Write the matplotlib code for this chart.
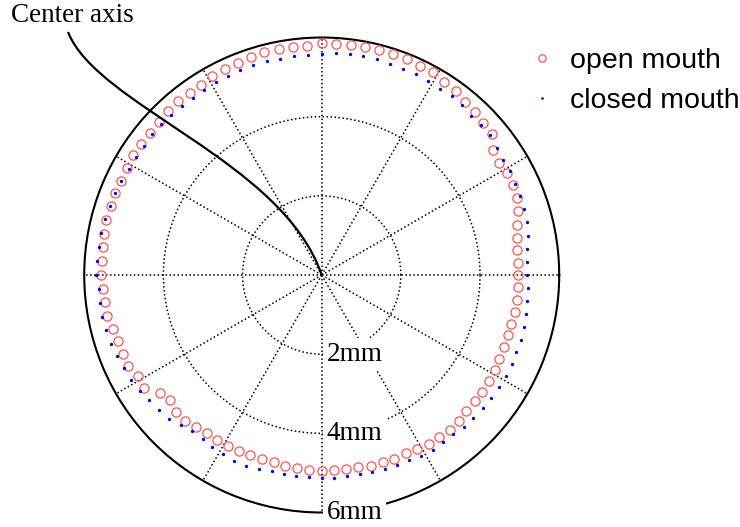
import numpy as np
import matplotlib
matplotlib.use("Agg")
import matplotlib.pyplot as plt
from matplotlib.path import Path
from matplotlib.patches import PathPatch

# sample angles (deg), 100 points round the circle
angles_deg = np.arange(0, 360, 3.6)

# radius of the mouth contour (mm)
r_open = [4.97, 4.98, 4.98, 5.03, 5.09, 5.22, 5.31, 5.35, 5.33, 5.29,
          5.36, 5.59, 5.60, 5.64, 5.66, 5.76, 5.78, 5.85, 5.84, 5.87,
          5.86, 5.87, 5.87, 5.87, 5.86, 5.85, 5.79, 5.80, 5.82, 5.82,
          5.79, 5.77, 5.74, 5.73, 5.69, 5.68, 5.71, 5.67, 5.63, 5.64,
          5.63, 5.64, 5.62, 5.60, 5.62, 5.61, 5.63, 5.59, 5.58, 5.56,
          5.58, 5.53, 5.52, 5.51, 5.44, 5.42, 5.40, 5.40, 5.30, 5.31,
          5.06, 4.97, 5.04, 5.05, 4.99, 4.92, 4.93, 4.92, 4.91, 4.89,
          4.89, 4.89, 4.91, 4.92, 4.94, 4.95, 4.93, 4.93, 4.95, 4.98,
          4.98, 4.99, 4.98, 5.02, 5.05, 5.05, 5.08, 5.05, 5.01, 5.01,
          5.01, 5.00, 4.99, 4.96, 4.95, 4.94, 4.93, 4.96, 4.97, 4.96]

r_closed = [5.19, 5.19, 5.23, 5.30, 5.35, 5.38, 5.39, 5.41, 5.43, 5.43,
            5.47, 5.53, 5.52, 5.52, 5.56, 5.58, 5.58, 5.59, 5.62, 5.61,
            5.61, 5.63, 5.63, 5.63, 5.61, 5.58, 5.58, 5.58, 5.56, 5.58,
            5.58, 5.58, 5.56, 5.57, 5.54, 5.54, 5.55, 5.56, 5.57, 5.58,
            5.56, 5.57, 5.57, 5.60, 5.62, 5.63, 5.66, 5.68, 5.68, 5.69,
            5.69, 5.64, 5.65, 5.64, 5.63, 5.60, 5.56, 5.53, 5.49, 5.45,
            5.39, 5.34, 5.30, 5.19, 5.13, 5.12, 5.15, 5.16, 5.19, 5.19,
            5.15, 5.10, 5.12, 5.12, 5.12, 5.14, 5.13, 5.12, 5.13, 5.14,
            5.15, 5.15, 5.16, 5.21, 5.23, 5.23, 5.22, 5.26, 5.26, 5.28,
            5.29, 5.30, 5.30, 5.30, 5.28, 5.29, 5.28, 5.26, 5.23, 5.21]

ring_radii = [2, 4, 6]
ring_labels = ["2mm", "4mm", "6mm"]
spoke_angles = list(range(0, 360, 30))

serif = "Liberation Serif"
sans = "Liberation Sans"

fig = plt.figure(figsize=(7.4, 5.27), dpi=100)
ax = fig.add_axes([0.1138, 0.0275, 0.6419, 0.9013], projection="polar")

theta = np.deg2rad(angles_deg)
ax.plot(theta, r_open, linestyle="none", marker="o", mfc="none",
        mec="#ff5252", ms=6.6, mew=0.9, label="open mouth", zorder=3)
ax.plot(theta, r_closed, linestyle="none", marker="o", color="#0000ff",
        ms=2.4, mew=0, label="closed mouth", zorder=3)

ax.set_ylim(0, 6)
ax.set_rgrids(ring_radii[:-1], labels=[])
ax.set_thetagrids(spoke_angles, labels=[])
ax.grid(True, color="black", linestyle=(0, (1, 1.6)), linewidth=1.1)
ax.spines["polar"].set_linewidth(1.5)
ax.tick_params(length=0)

for r, lab in zip(ring_radii, ring_labels):
    ax.annotate(lab, xy=(np.deg2rad(270), r), xytext=(3.5, 0),
                textcoords="offset points", ha="left", va="center",
                fontsize=19.5, family=serif, annotation_clip=False,
                bbox=dict(boxstyle="square,pad=0.15", fc="white", ec="none"),
                zorder=5)

# "Center axis" callout with curved leader to the pole
fig.text(11 / 740, 1 - 22 / 527, "Center axis", fontsize=19.5, family=serif,
         ha="left", va="baseline")
verts = [(68 / 740, 1 - 32 / 527), (97 / 740, 1 - 106 / 527),
         (283 / 740, 1 - 161 / 527), (321.7 / 740, 1 - 275 / 527)]
curve = Path(verts, [Path.MOVETO, Path.CURVE4, Path.CURVE4, Path.CURVE4])
fig.patches.append(PathPatch(curve, transform=fig.transFigure, fc="none",
                             ec="black", lw=1.6, zorder=6))

fig.legend(loc="upper left", bbox_to_anchor=(527.5 / 740, 1 - 48 / 527),
           frameon=False, borderpad=0, borderaxespad=0, handlelength=1.0,
           handletextpad=0.5, labelspacing=0.5, markerscale=0.8,
           prop={"family": sans, "size": 20.5})

fig.savefig("out.png", dpi=100)
